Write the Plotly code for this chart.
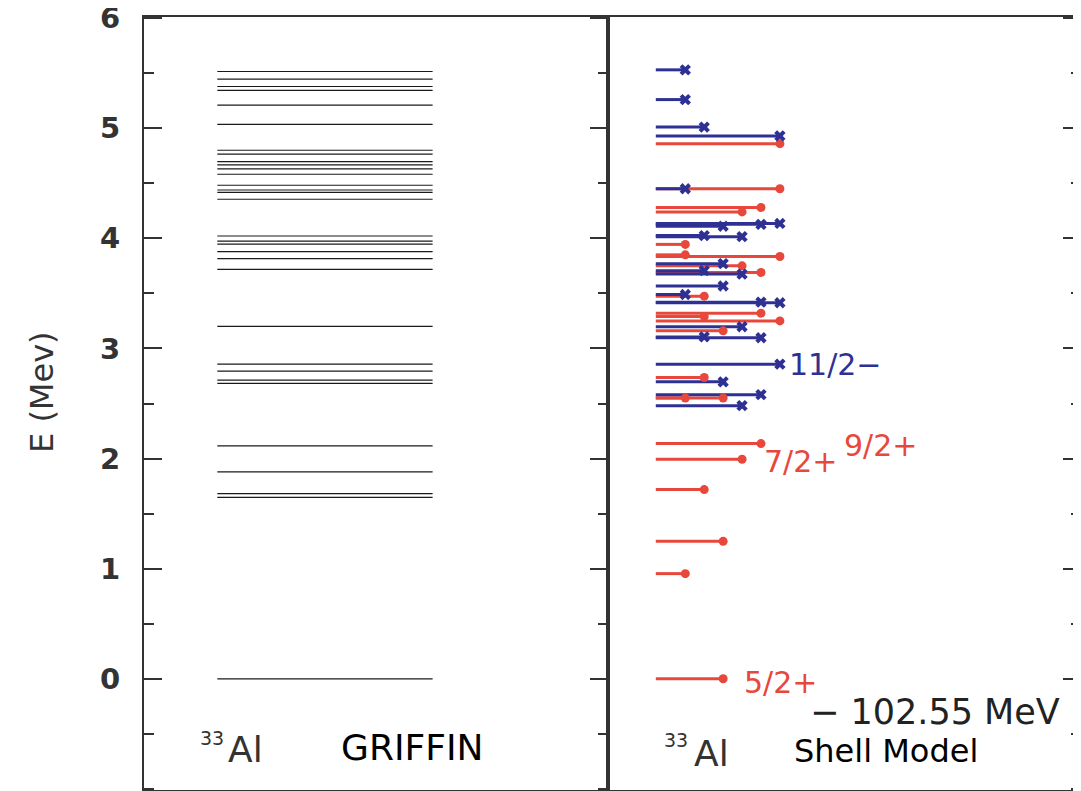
import plotly.graph_objects as go

# ---------------- data ----------------
# GRIFFIN experimental levels of 33Al (MeV)
griffin_levels = [0.0, 1.648, 1.682, 1.879, 2.115, 2.682, 2.712, 2.794, 2.857, 3.20,
                  3.718, 3.815, 3.879, 3.948, 3.975, 4.021, 4.355, 4.418, 4.439, 4.482,
                  4.582, 4.630, 4.667, 4.697, 4.764, 4.800, 5.034, 5.209, 5.343, 5.379,
                  5.445, 5.515]

# Shell model, positive parity (red): energy (MeV) and 2J
sm_pos_E = [0.0, 0.955, 1.248, 1.718, 1.994, 2.136, 2.55, 2.55, 2.736, 3.16, 3.25,
            3.29, 3.32, 3.475, 3.69, 3.75, 3.835, 3.85, 3.945, 4.24, 4.28, 4.45, 4.86]
sm_pos_2J = [5, 1, 5, 3, 7, 9, 1, 5, 3, 5, 11,
             3, 9, 3, 9, 7, 11, 1, 1, 7, 9, 11, 11]

# Shell model, negative parity (blue): energy (MeV) and 2J
sm_neg_E = [2.48, 2.58, 2.697, 2.857, 3.097, 3.105, 3.197, 3.415, 3.42, 3.49, 3.567,
            3.675, 3.706, 3.77, 4.015, 4.025, 4.11, 4.127, 4.135, 4.45, 4.93, 5.01,
            5.26, 5.53]
sm_neg_2J = [7, 9, 5, 11, 9, 3, 7, 11, 9, 1, 5,
             7, 3, 5, 7, 3, 5, 9, 11, 1, 11, 3,
             1, 1]

y_ticks = [0, 1, 2, 3, 4, 5, 6]

RED = "#e8473b"
BLUE = "#2e3193"
AX = "#333333"
FONT = "DejaVu Sans"

# ---------------- figure ----------------
fig = go.Figure()

# left panel: GRIFFIN levels
gx, gy = [], []
for e in griffin_levels:
    gx += [0.158, 0.622, None]
    gy += [e, e, None]
fig.add_trace(go.Scatter(x=gx, y=gy, mode="lines", line=dict(color="#1a1a1a", width=1.2),
                         xaxis="x", yaxis="y", showlegend=False, hoverinfo="skip"))

# right panel: shell model levels, line length ~ J
X0 = -1.06


def seg(E, twoJ):
    xs, ys = [], []
    for e, j in zip(E, twoJ):
        xs += [X0, j / 2.0, None]
        ys += [e, e, None]
    return xs, ys


px_, py_ = seg(sm_pos_E, sm_pos_2J)
nx_, ny_ = seg(sm_neg_E, sm_neg_2J)
fig.add_trace(go.Scatter(x=px_, y=py_, mode="lines", line=dict(color=RED, width=3),
                         xaxis="x2", yaxis="y2", showlegend=False, hoverinfo="skip"))
fig.add_trace(go.Scatter(x=nx_, y=ny_, mode="lines", line=dict(color=BLUE, width=3),
                         xaxis="x2", yaxis="y2", showlegend=False, hoverinfo="skip"))
fig.add_trace(go.Scatter(x=[j / 2.0 for j in sm_pos_2J], y=sm_pos_E, mode="markers",
                         marker=dict(color=RED, size=9, symbol="circle"),
                         xaxis="x2", yaxis="y2", showlegend=False, hoverinfo="skip"))
fig.add_trace(go.Scatter(x=[j / 2.0 for j in sm_neg_2J], y=sm_neg_E, mode="markers",
                         marker=dict(color=BLUE, size=10, symbol="x"),
                         xaxis="x2", yaxis="y2", showlegend=False, hoverinfo="skip"))

# page body has an 8px margin; compensate so the page picture matches
OFF = 8
PAGE_W, PAGE_H = 1081, 791
W, H = PAGE_W - OFF, PAGE_H - OFF
L, R, T, B = 144 - OFF, PAGE_W - OFF - 1073, 17 - OFF, 1
PW, PH = W - L - R, H - T - B
SPLIT = (608 - 144) / PW


def P(xp, yp):
    # page pixel -> paper coordinates
    return (xp - 144) / PW, (790 - yp) / PH


yr = [-1.01, 6.01]
ycommon = dict(range=yr, ticks="inside", ticklen=18, tickwidth=2, tickcolor=AX,
               showline=True, linecolor=AX, linewidth=2, showgrid=False, zeroline=False,
               tickvals=y_ticks, automargin=False,
               minor=dict(dtick=0.5, tick0=0, ticks="inside", ticklen=10, tickwidth=2,
                          tickcolor=AX, showgrid=False))

fig.update_layout(
    width=W, height=H,
    margin=dict(l=L, r=R, t=T, b=B, autoexpand=False),
    paper_bgcolor="white", plot_bgcolor="white",
    xaxis=dict(domain=[0, SPLIT], range=[0, 1], showline=True, mirror=True, linecolor=AX,
               linewidth=2, showticklabels=False, ticks="", showgrid=False, zeroline=False,
               automargin=False),
    xaxis2=dict(domain=[SPLIT, 1], range=[-3.586, 21.414], showline=True, mirror=True,
                linecolor=AX, linewidth=2, showticklabels=False, ticks="", showgrid=False,
                zeroline=False, anchor="y2", automargin=False),
    yaxis=dict(**ycommon, mirror="ticks", anchor="x",
               tickfont=dict(family=FONT, size=29, color=AX, weight="bold"),
               ticklabelstandoff=16, ticklabeloverflow="allow"),
    yaxis2=dict(**ycommon, mirror=True, anchor="x2", side="right", showticklabels=False),
)

ann = []


def text(t, xp, yp, size, color="black", xanchor="center", angle=0):
    x, y = P(xp, yp)
    ann.append(dict(text=t, x=x, y=y, xref="paper", yref="paper", showarrow=False,
                    xanchor=xanchor, yanchor="middle", textangle=angle,
                    font=dict(family=FONT, size=size, color=color)))


text("E (Mev)", 42, 392, 32, AX, angle=-90)
# left panel labels
text("33", 212, 738, 19, AX)
text("Al", 245, 749, 36, AX)
text("GRIFFIN", 412, 747, 36, "black")
# right panel labels
text("33", 676, 740, 19, AX)
text("Al", 711, 753, 36, AX)
text("Shell Model", 886, 751, 32, "black")
text("\u2212 102.55 MeV", 935, 712, 35, "#222222")
text("5/2+", 780, 682, 30, RED)
text("7/2+", 800, 461, 30, RED)
text("9/2+", 880, 445, 30, RED)
text("11/2\u2212", 835, 364, 30, BLUE)

fig.update_layout(annotations=ann)
fig.write_html("out.html")
